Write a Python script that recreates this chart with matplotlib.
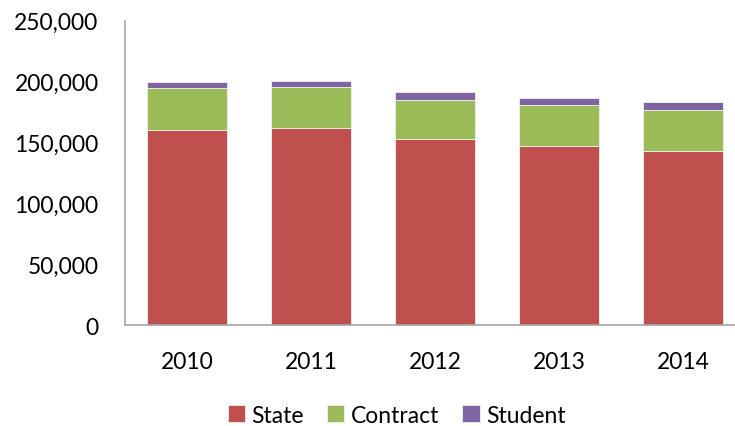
import matplotlib
matplotlib.use("Agg")
import numpy as np
import matplotlib.pyplot as plt
from matplotlib.ticker import FuncFormatter

# ---------------------------------------------------------------------------
# Data
# ---------------------------------------------------------------------------
years = ["2010", "2011", "2012", "2013", "2014"]
state = [160400, 161500, 152400, 146700, 142900]
contract = [34000, 33900, 32500, 34100, 33900]
student = [4900, 5200, 6100, 5500, 6000]

colors = {"State": "#C0504D", "Contract": "#9BBB59", "Student": "#8064A2"}

plt.rcParams["font.family"] = ["Lato", "DejaVu Sans"]

fig = plt.figure(figsize=(7.35, 4.27), dpi=100)
ax = fig.add_axes([0.170, 0.2365, 0.830, 0.713])

x = np.arange(len(years))
width = 0.645
bottom = np.zeros(len(years))
for name, vals in [("State", state), ("Contract", contract), ("Student", student)]:
    ax.bar(x, vals, width, bottom=bottom, color=colors[name], label=name,
           edgecolor="#F2F2F2", linewidth=0.6)
    bottom += np.array(vals)

ax.set_xlim(-0.5, 4.42)
ax.set_ylim(0, 250000)
ax.set_yticks(np.arange(0, 250001, 50000))
ax.yaxis.set_major_formatter(FuncFormatter(lambda v, p: f"{int(v):,}"))
ax.set_xticks(x)
ax.set_xticklabels(years)

for side in ["top", "right"]:
    ax.spines[side].set_visible(False)
for side in ["left", "bottom"]:
    ax.spines[side].set_color("#A6A6A6")
    ax.spines[side].set_linewidth(1.2)
ax.tick_params(axis="both", length=0, labelsize=16.5, colors="black")
ax.tick_params(axis="y", pad=19)
ax.tick_params(axis="x", pad=19)

handles, labels = ax.get_legend_handles_labels()
fig.legend(handles, labels, loc="center", bbox_to_anchor=(0.54, 0.025),
           ncol=3, frameon=False, fontsize=16.5, handlelength=0.75,
           handleheight=0.75, handletextpad=0.3, columnspacing=1.0)

plt.savefig("out.png", dpi=100)
